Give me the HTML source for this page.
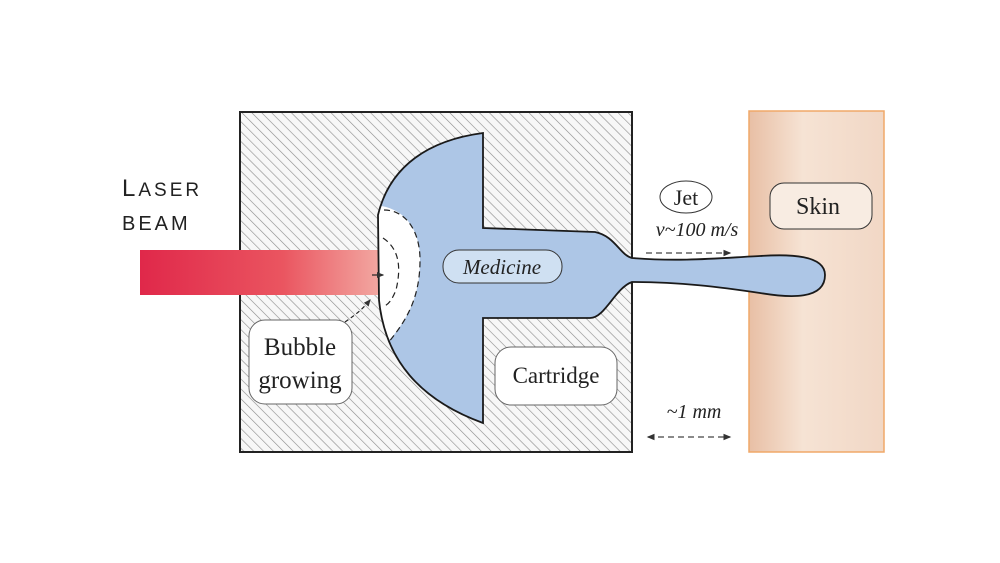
<!DOCTYPE html>
<html><head><meta charset="utf-8"><style>
html,body{margin:0;padding:0;background:#fff;}
svg{display:block}
text{font-family:"Liberation Serif",serif;fill:#222}
</style></head><body>
<svg width="1000" height="563" viewBox="0 0 1000 563" xmlns="http://www.w3.org/2000/svg">
<defs>
<pattern id="h" width="7" height="7" patternUnits="userSpaceOnUse" patternTransform="rotate(-45)">
<rect width="7" height="7" fill="#f7f7f7"/>
<line x1="0" y1="0" x2="0" y2="7" stroke="#8a8a8a" stroke-width="1.2"/>
</pattern>
<linearGradient id="laser" x1="0" x2="1">
<stop offset="0" stop-color="#e0284a"/><stop offset="0.6" stop-color="#ea5560"/><stop offset="1" stop-color="#f2a6a0"/>
</linearGradient>
<linearGradient id="skin" x1="0" x2="1">
<stop offset="0" stop-color="#e8bfa5"/><stop offset="0.4" stop-color="#f6e3d4"/><stop offset="1" stop-color="#f1d7c5"/>
</linearGradient>
<marker id="a" markerWidth="6" markerHeight="6" refX="5" refY="3" orient="auto"><path d="M0,0.5 L6,3 L0,5.5z" fill="#333"/></marker>
<marker id="b" markerWidth="6" markerHeight="6" refX="1" refY="3" orient="auto"><path d="M6,0.5 L0,3 L6,5.5z" fill="#333"/></marker>
<clipPath id="cp"><path id="blue" d="M483,133 L483,228 L595,232 C615,236 620,255 632,258 C680,262 720,258 760,256 C790,254 825,255 825,275 C825,300 790,298 760,293 C720,287 680,282 632,282 C615,288 605,318 590,318 L483,318 L483,423 C420,400 385,360 379,300 L378,215 C390,165 430,140 483,133 Z"/></clipPath>
</defs>
<rect x="749" y="111" width="135" height="341" fill="url(#skin)" stroke="#f0a868" stroke-width="1.5"/>
<rect x="240" y="112" width="392" height="340" fill="url(#h)" stroke="#222" stroke-width="2"/>
<rect x="140" y="250" width="238" height="45" fill="url(#laser)"/>
<use href="#blue" fill="#adc6e6"/>
<path d="M370,205 C405,205 420,230 420,260 C420,300 405,325 380,350 L360,350 L360,205 Z" fill="#fff" clip-path="url(#cp)"/>
<use href="#blue" fill="none" stroke="#1a1a1a" stroke-width="1.8"/>
<path d="M384,210 C405,210 420,230 420,260 C420,300 405,322 388,343" fill="none" stroke="#222" stroke-width="1.2" stroke-dasharray="6,4"/>
<path d="M383,238 C398,248 402,265 396,290 C392,300 388,305 384,306" fill="none" stroke="#222" stroke-width="1.2" stroke-dasharray="6,4"/>
<line x1="372" y1="275" x2="383" y2="275" stroke="#222" stroke-width="1.2" marker-end="url(#a)"/>
<path d="M345,322 C355,315 362,310 370,300" fill="none" stroke="#222" stroke-width="1.2" stroke-dasharray="4,3" marker-end="url(#a)"/>
<rect x="443" y="250" width="119" height="33" rx="16" fill="#cfe0f2" stroke="#333" stroke-width="1"/>
<text x="502" y="274" font-size="21" text-anchor="middle" font-style="italic">Medicine</text>
<rect x="249" y="320" width="103" height="84" rx="16" fill="#fff" stroke="#666" stroke-width="1"/>
<text x="300" y="355" font-size="25" text-anchor="middle">Bubble</text>
<text x="300" y="388" font-size="25" text-anchor="middle">growing</text>
<rect x="495" y="347" width="122" height="58" rx="16" fill="#fff" stroke="#666" stroke-width="1"/>
<text x="556" y="383" font-size="23" text-anchor="middle">Cartridge</text>
<text x="122" y="196" font-size="24" letter-spacing="3" style="font-family:'Liberation Sans',sans-serif">L<tspan font-size="19">ASER</tspan></text>
<text x="122" y="230" font-size="20" letter-spacing="3" style="font-family:'Liberation Sans',sans-serif">BEAM</text>
<ellipse cx="686" cy="197" rx="26" ry="16" fill="#fff" stroke="#333" stroke-width="1"/>
<text x="686" y="205" font-size="22" text-anchor="middle">Jet</text>
<text x="697" y="236" font-size="20" text-anchor="middle" font-style="italic">v~100 m/s</text>
<line x1="646" y1="253" x2="730" y2="253" stroke="#444" stroke-width="1.3" stroke-dasharray="6,4" marker-end="url(#a)"/>
<rect x="770" y="183" width="102" height="46" rx="14" fill="#f8ece2" stroke="#333" stroke-width="1"/>
<text x="818" y="214" font-size="24" text-anchor="middle">Skin</text>
<text x="694" y="418" font-size="20" text-anchor="middle" font-style="italic">~1 mm</text>
<line x1="648" y1="437" x2="730" y2="437" stroke="#444" stroke-width="1.3" stroke-dasharray="6,4" marker-start="url(#b)" marker-end="url(#a)"/>
</svg>
</body></html>
